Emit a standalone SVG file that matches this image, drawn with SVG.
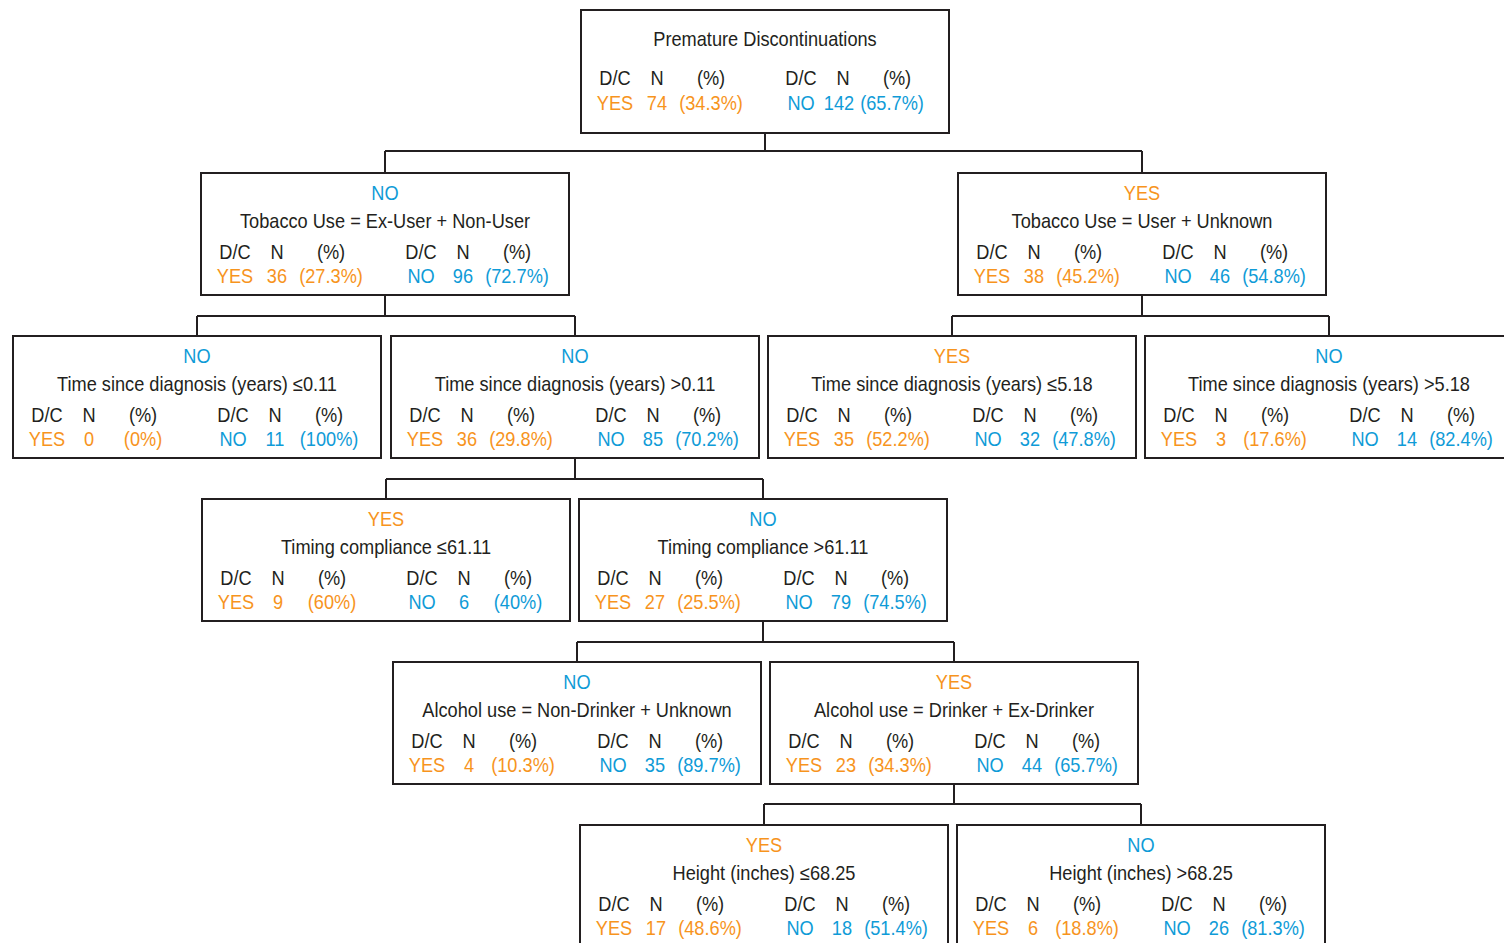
<svg xmlns="http://www.w3.org/2000/svg" width="1504" height="943" viewBox="0 0 1504 943">
<style>
text{font-family:"Liberation Sans",Arial,sans-serif;font-size:20px;text-anchor:middle;fill:#231f20}
.y{fill:#f7941d}
.b{fill:#0f9bd7}
.box{fill:#fff;stroke:#231f20;stroke-width:2}
.c{fill:none;stroke:#231f20;stroke-width:2}
</style>
<rect width="1504" height="943" fill="#fff"/>
<g id="connectors">
<path class="c" d="M765 133V151M385 151H1142M385 151V173M1142 151V173"/>
<path class="c" d="M385 295V316M197 316H575M197 316V336M575 316V336"/>
<path class="c" d="M1142 295V316M952 316H1329M952 316V336M1329 316V336"/>
<path class="c" d="M575 458V479M386 479H763M386 479V499M763 479V499"/>
<path class="c" d="M763 621V642M577 642H954M577 642V662M954 642V662"/>
<path class="c" d="M954 784V804M764 804H1141M764 804V825M1141 804V825"/>
</g>
<g id="root" transform="translate(581,10)">
<rect class="box" width="368" height="123"/>
<g transform="scale(0.91,1)">
<text x="202.2" y="36">Premature Discontinuations</text>
<text x="37.4" y="75">D/C</text><text x="83.5" y="75">N</text><text x="142.9" y="75">(%)</text>
<text x="241.8" y="75">D/C</text><text x="287.9" y="75">N</text><text x="347.3" y="75">(%)</text>
<text class="y" x="37.4" y="100">YES</text><text class="y" x="83.5" y="100">74</text><text class="y" x="142.9" y="100">(34.3%)</text>
<text class="b" x="241.8" y="100">NO</text><text class="b" x="283.5" y="100">142</text><text class="b" x="341.8" y="100">(65.7%)</text>
</g>
</g>
<g id="tobacco-no" transform="translate(201,173)">
<rect class="box" width="368" height="122"/>
<g transform="scale(0.91,1)">
<text class="b" x="202.2" y="27">NO</text>
<text x="202.2" y="55">Tobacco Use = Ex-User + Non-User</text>
<text x="37.4" y="86">D/C</text><text x="83.5" y="86">N</text><text x="142.9" y="86">(%)</text>
<text x="241.8" y="86">D/C</text><text x="287.9" y="86">N</text><text x="347.3" y="86">(%)</text>
<text class="y" x="37.4" y="110">YES</text><text class="y" x="83.5" y="110">36</text><text class="y" x="142.9" y="110">(27.3%)</text>
<text class="b" x="241.8" y="110">NO</text><text class="b" x="287.9" y="110">96</text><text class="b" x="347.3" y="110">(72.7%)</text>
</g>
</g>
<g id="tobacco-yes" transform="translate(958,173)">
<rect class="box" width="368" height="122"/>
<g transform="scale(0.91,1)">
<text class="y" x="202.2" y="27">YES</text>
<text x="202.2" y="55">Tobacco Use = User + Unknown</text>
<text x="37.4" y="86">D/C</text><text x="83.5" y="86">N</text><text x="142.9" y="86">(%)</text>
<text x="241.8" y="86">D/C</text><text x="287.9" y="86">N</text><text x="347.3" y="86">(%)</text>
<text class="y" x="37.4" y="110">YES</text><text class="y" x="83.5" y="110">38</text><text class="y" x="142.9" y="110">(45.2%)</text>
<text class="b" x="241.8" y="110">NO</text><text class="b" x="287.9" y="110">46</text><text class="b" x="347.3" y="110">(54.8%)</text>
</g>
</g>
<g id="time-le-011" transform="translate(13,336)">
<rect class="box" width="368" height="122"/>
<g transform="scale(0.91,1)">
<text class="b" x="202.2" y="27">NO</text>
<text x="202.2" y="55">Time since diagnosis (years) ≤0.11</text>
<text x="37.4" y="86">D/C</text><text x="83.5" y="86">N</text><text x="142.9" y="86">(%)</text>
<text x="241.8" y="86">D/C</text><text x="287.9" y="86">N</text><text x="347.3" y="86">(%)</text>
<text class="y" x="37.4" y="110">YES</text><text class="y" x="83.5" y="110">0</text><text class="y" x="142.9" y="110">(0%)</text>
<text class="b" x="241.8" y="110">NO</text><text class="b" x="287.9" y="110">11</text><text class="b" x="347.3" y="110">(100%)</text>
</g>
</g>
<g id="time-gt-011" transform="translate(391,336)">
<rect class="box" width="368" height="122"/>
<g transform="scale(0.91,1)">
<text class="b" x="202.2" y="27">NO</text>
<text x="202.2" y="55">Time since diagnosis (years) &gt;0.11</text>
<text x="37.4" y="86">D/C</text><text x="83.5" y="86">N</text><text x="142.9" y="86">(%)</text>
<text x="241.8" y="86">D/C</text><text x="287.9" y="86">N</text><text x="347.3" y="86">(%)</text>
<text class="y" x="37.4" y="110">YES</text><text class="y" x="83.5" y="110">36</text><text class="y" x="142.9" y="110">(29.8%)</text>
<text class="b" x="241.8" y="110">NO</text><text class="b" x="287.9" y="110">85</text><text class="b" x="347.3" y="110">(70.2%)</text>
</g>
</g>
<g id="time-le-518" transform="translate(768,336)">
<rect class="box" width="368" height="122"/>
<g transform="scale(0.91,1)">
<text class="y" x="202.2" y="27">YES</text>
<text x="202.2" y="55">Time since diagnosis (years) ≤5.18</text>
<text x="37.4" y="86">D/C</text><text x="83.5" y="86">N</text><text x="142.9" y="86">(%)</text>
<text x="241.8" y="86">D/C</text><text x="287.9" y="86">N</text><text x="347.3" y="86">(%)</text>
<text class="y" x="37.4" y="110">YES</text><text class="y" x="83.5" y="110">35</text><text class="y" x="142.9" y="110">(52.2%)</text>
<text class="b" x="241.8" y="110">NO</text><text class="b" x="287.9" y="110">32</text><text class="b" x="347.3" y="110">(47.8%)</text>
</g>
</g>
<g id="time-gt-518" transform="translate(1145,336)">
<rect class="box" width="368" height="122"/>
<g transform="scale(0.91,1)">
<text class="b" x="202.2" y="27">NO</text>
<text x="202.2" y="55">Time since diagnosis (years) &gt;5.18</text>
<text x="37.4" y="86">D/C</text><text x="83.5" y="86">N</text><text x="142.9" y="86">(%)</text>
<text x="241.8" y="86">D/C</text><text x="287.9" y="86">N</text><text x="347.3" y="86">(%)</text>
<text class="y" x="37.4" y="110">YES</text><text class="y" x="83.5" y="110">3</text><text class="y" x="142.9" y="110">(17.6%)</text>
<text class="b" x="241.8" y="110">NO</text><text class="b" x="287.9" y="110">14</text><text class="b" x="347.3" y="110">(82.4%)</text>
</g>
</g>
<g id="timing-le" transform="translate(202,499)">
<rect class="box" width="368" height="122"/>
<g transform="scale(0.91,1)">
<text class="y" x="202.2" y="27">YES</text>
<text x="202.2" y="55">Timing compliance ≤61.11</text>
<text x="37.4" y="86">D/C</text><text x="83.5" y="86">N</text><text x="142.9" y="86">(%)</text>
<text x="241.8" y="86">D/C</text><text x="287.9" y="86">N</text><text x="347.3" y="86">(%)</text>
<text class="y" x="37.4" y="110">YES</text><text class="y" x="83.5" y="110">9</text><text class="y" x="142.9" y="110">(60%)</text>
<text class="b" x="241.8" y="110">NO</text><text class="b" x="287.9" y="110">6</text><text class="b" x="347.3" y="110">(40%)</text>
</g>
</g>
<g id="timing-gt" transform="translate(579,499)">
<rect class="box" width="368" height="122"/>
<g transform="scale(0.91,1)">
<text class="b" x="202.2" y="27">NO</text>
<text x="202.2" y="55">Timing compliance &gt;61.11</text>
<text x="37.4" y="86">D/C</text><text x="83.5" y="86">N</text><text x="142.9" y="86">(%)</text>
<text x="241.8" y="86">D/C</text><text x="287.9" y="86">N</text><text x="347.3" y="86">(%)</text>
<text class="y" x="37.4" y="110">YES</text><text class="y" x="83.5" y="110">27</text><text class="y" x="142.9" y="110">(25.5%)</text>
<text class="b" x="241.8" y="110">NO</text><text class="b" x="287.9" y="110">79</text><text class="b" x="347.3" y="110">(74.5%)</text>
</g>
</g>
<g id="alcohol-no" transform="translate(393,662)">
<rect class="box" width="368" height="122"/>
<g transform="scale(0.91,1)">
<text class="b" x="202.2" y="27">NO</text>
<text x="202.2" y="55">Alcohol use = Non-Drinker + Unknown</text>
<text x="37.4" y="86">D/C</text><text x="83.5" y="86">N</text><text x="142.9" y="86">(%)</text>
<text x="241.8" y="86">D/C</text><text x="287.9" y="86">N</text><text x="347.3" y="86">(%)</text>
<text class="y" x="37.4" y="110">YES</text><text class="y" x="83.5" y="110">4</text><text class="y" x="142.9" y="110">(10.3%)</text>
<text class="b" x="241.8" y="110">NO</text><text class="b" x="287.9" y="110">35</text><text class="b" x="347.3" y="110">(89.7%)</text>
</g>
</g>
<g id="alcohol-yes" transform="translate(770,662)">
<rect class="box" width="368" height="122"/>
<g transform="scale(0.91,1)">
<text class="y" x="202.2" y="27">YES</text>
<text x="202.2" y="55">Alcohol use = Drinker + Ex-Drinker</text>
<text x="37.4" y="86">D/C</text><text x="83.5" y="86">N</text><text x="142.9" y="86">(%)</text>
<text x="241.8" y="86">D/C</text><text x="287.9" y="86">N</text><text x="347.3" y="86">(%)</text>
<text class="y" x="37.4" y="110">YES</text><text class="y" x="83.5" y="110">23</text><text class="y" x="142.9" y="110">(34.3%)</text>
<text class="b" x="241.8" y="110">NO</text><text class="b" x="287.9" y="110">44</text><text class="b" x="347.3" y="110">(65.7%)</text>
</g>
</g>
<g id="height-le" transform="translate(580,825)">
<rect class="box" width="368" height="122"/>
<g transform="scale(0.91,1)">
<text class="y" x="202.2" y="27">YES</text>
<text x="202.2" y="55">Height (inches) ≤68.25</text>
<text x="37.4" y="86">D/C</text><text x="83.5" y="86">N</text><text x="142.9" y="86">(%)</text>
<text x="241.8" y="86">D/C</text><text x="287.9" y="86">N</text><text x="347.3" y="86">(%)</text>
<text class="y" x="37.4" y="110">YES</text><text class="y" x="83.5" y="110">17</text><text class="y" x="142.9" y="110">(48.6%)</text>
<text class="b" x="241.8" y="110">NO</text><text class="b" x="287.9" y="110">18</text><text class="b" x="347.3" y="110">(51.4%)</text>
</g>
</g>
<g id="height-gt" transform="translate(957,825)">
<rect class="box" width="368" height="122"/>
<g transform="scale(0.91,1)">
<text class="b" x="202.2" y="27">NO</text>
<text x="202.2" y="55">Height (inches) &gt;68.25</text>
<text x="37.4" y="86">D/C</text><text x="83.5" y="86">N</text><text x="142.9" y="86">(%)</text>
<text x="241.8" y="86">D/C</text><text x="287.9" y="86">N</text><text x="347.3" y="86">(%)</text>
<text class="y" x="37.4" y="110">YES</text><text class="y" x="83.5" y="110">6</text><text class="y" x="142.9" y="110">(18.8%)</text>
<text class="b" x="241.8" y="110">NO</text><text class="b" x="287.9" y="110">26</text><text class="b" x="347.3" y="110">(81.3%)</text>
</g>
</g>
</svg>
